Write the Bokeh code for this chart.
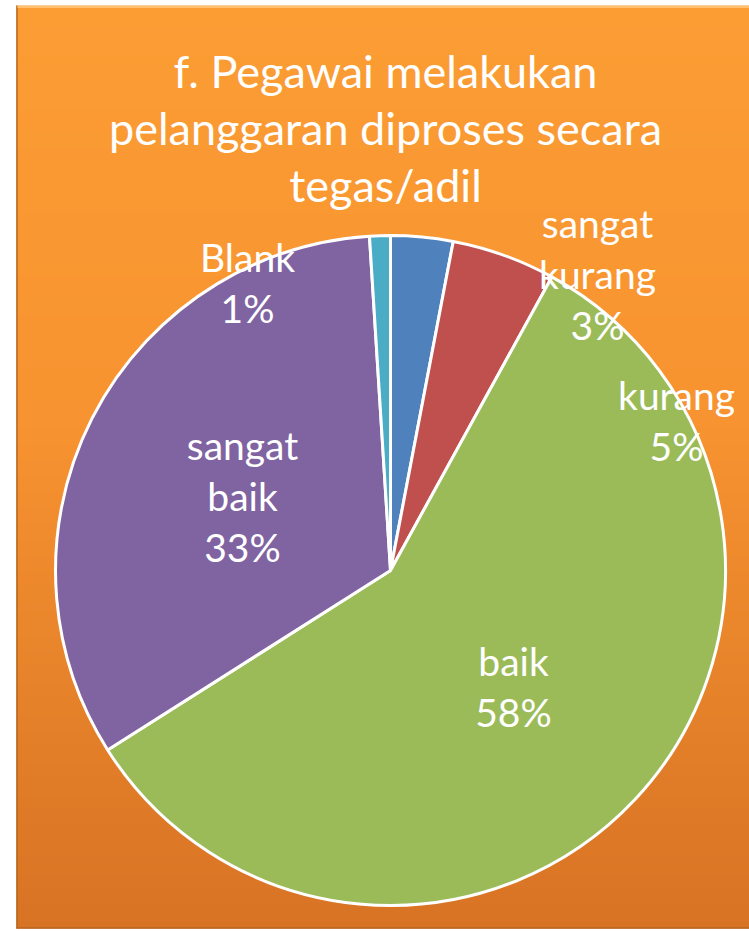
import math
import numpy as np
from bokeh.plotting import figure
from bokeh.models import Range1d, ColumnDataSource
from bokeh.core.properties import value
from bokeh.embed import file_html
from bokeh.resources import INLINE

# ---- data ----
title_lines = ["f. Pegawai melakukan", "pelanggaran diproses secara", "tegas/adil"]
categories = ["sangat kurang", "kurang", "baik", "sangat baik", "Blank"]
percents = [3, 5, 58, 33, 1]
colors = ["#4F81BD", "#C0504D", "#9BBB59", "#8064A2", "#4BACC6"]

# ---- layout (page pixel coords -> data coords) ----
W, H = 749, 931
def px(x):
    return x
def py(y):
    return H - y

p = figure(width=W, height=H, output_backend="svg", toolbar_location=None,
           x_range=Range1d(0, W), y_range=Range1d(0, H), min_border=0)
p.axis.visible = False
p.grid.visible = False
p.outline_line_color = None
p.background_fill_color = "white"
p.border_fill_color = "white"

# background panel gradient (decorative)
stops = [(0.0, (252, 157, 52)), (0.45, (247, 147, 48)), (1.0, (215, 115, 36))]
def grad(t):
    for (t0, c0), (t1, c1) in zip(stops[:-1], stops[1:]):
        if t <= t1:
            f = (t - t0) / (t1 - t0)
            return tuple(int(round(a + (b - a) * f)) for a, b in zip(c0, c1))
    return stops[-1][1]
n = 256
img = np.zeros((n, 1), dtype=np.uint32)
view = img.view(dtype=np.uint8).reshape((n, 1, 4))
for i in range(n):
    rr, gg, bb = grad(1 - (i + 0.5) / n)
    view[i, 0, 0] = rr; view[i, 0, 1] = gg; view[i, 0, 2] = bb; view[i, 0, 3] = 255
top_img, bot_img, left_img = 5, 928, 16
p.image_rgba(image=[img], x=px(left_img), y=py(bot_img), dw=W + 5 - left_img,
             dh=bot_img - top_img)
# bevel edges
p.segment(x0=[px(16.5)], y0=[py(5)], x1=[px(16.5)], y1=[py(928)], line_color="#b8641f", line_width=1.5)
p.segment(x0=[px(16)], y0=[py(927.5)], x1=[W + 5], y1=[py(927.5)], line_color="#b8641f", line_width=1.5)
p.segment(x0=[px(17)], y0=[py(6.5)], x1=[W + 5], y1=[py(6.5)], line_color="#ffc070", line_width=2)

# pie
cx, cy, r = px(390), py(570), 335
total = float(sum(percents))
starts, ends = [], []
cum = 0.0
for v in percents:
    a0 = math.pi / 2 - 2 * math.pi * cum / total
    cum += v
    a1 = math.pi / 2 - 2 * math.pi * cum / total
    starts.append(a1); ends.append(a0)
src = ColumnDataSource(dict(start=starts, end=ends, color=colors))
p.wedge(x=cx, y=cy, radius=r, start_angle="start", end_angle="end",
        fill_color="color", line_color="white", line_width=3, source=src)

FONT = value("Lato")
DY = 13  # baseline correction
# title
title_base = [83, 140, 197]
p.text(x=[px(385)] * 3, y=[py(b - DY) for b in title_base], text=title_lines,
       text_font=FONT, text_font_size="45px", text_color="white",
       text_align="center", text_baseline="alphabetic")

# data labels: (center x, first baseline) in page pixels
label_pos = [(597, 235), (676, 407), (513, 673), (242, 457), (247, 269)]
lx, ly, lt = [], [], []
for name, v, (x, y) in zip(categories, percents, label_pos):
    lines = name.split(" ") + [f"{v}%"]
    for k, t in enumerate(lines):
        lx.append(px(x)); ly.append(py(y + 51 * k - DY)); lt.append(t)
p.text(x=lx, y=ly, text=lt, text_font=FONT, text_font_size="39px",
       text_color="white", text_align="center", text_baseline="alphabetic")

open("out.html", "w").write(file_html(p, INLINE))
